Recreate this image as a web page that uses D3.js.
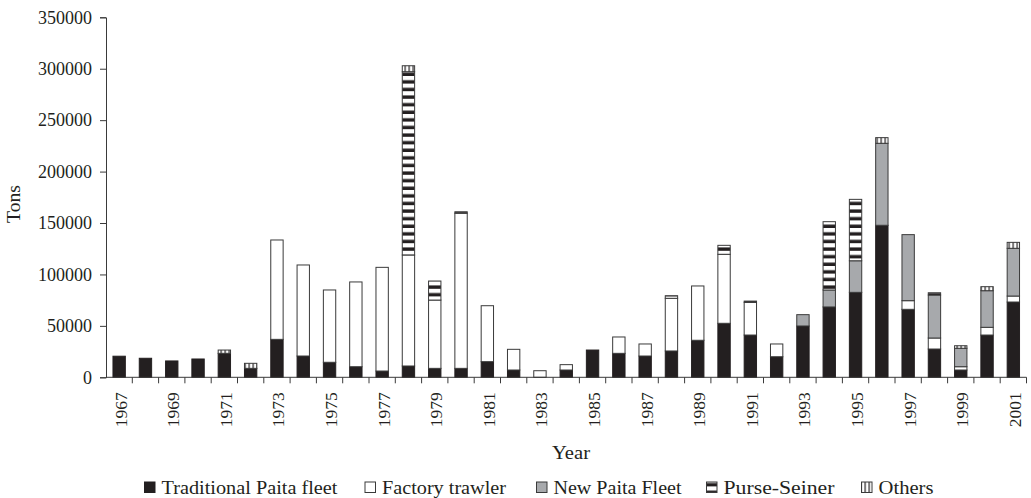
<!DOCTYPE html>
<html>
<head>
<meta charset="utf-8">
<script src="https://cdn.jsdelivr.net/npm/d3@7/dist/d3.min.js"></script>
<style>
  html, body { margin: 0; padding: 0; background: #fff; }
  svg { display: block; }
  text { font-family: "Liberation Serif", "DejaVu Serif", serif; fill: #231f20; }
</style>
</head>
<body>
<svg id="chart" width="1031" height="498"></svg>
<script>
// Annual catch by fleet, in tons
const years = d3.range(1967, 2002);
const traditional = [20500, 18500, 15900, 17800, 23300, 8700, 36900, 20700, 14600, 10300,
  6100, 11000, 8700, 8700, 15200, 7100, 0, 7100, 26500, 23300,
  20700, 25600, 36000, 52500, 41100, 20000, 49900, 68400, 82600, 147800,
  66100, 27500, 7100, 41100, 73200];
const factory = [0, 0, 0, 0, 0, 0, 96600, 88500, 70300, 82400,
  100800, 107900, 66400, 150700, 54400, 20100, 6400, 5200, 0, 15900,
  11700, 51200, 52800, 67100, 31800, 12400, 0, 0, 0, 0,
  8400, 10700, 3200, 7500, 5800];
const newPaita = [0, 0, 0, 0, 0, 0, 0, 0, 0, 0,
  0, 0, 0, 0, 0, 0, 0, 0, 0, 0,
  0, 0, 0, 0, 0, 0, 11000, 16500, 30700, 79700,
  64200, 41800, 17900, 35600, 46400];
const purseSeiner = [0, 0, 0, 0, 0, 0, 0, 0, 0, 0,
  0, 178200, 18500, 1500, 0, 0, 0, 0, 0, 0,
  0, 2500, 0, 8700, 1200, 0, 0, 66400, 59700, 0,
  0, 2200, 0, 0, 0];
const others = [0, 0, 0, 0, 3200, 4900, 0, 0, 0, 0,
  0, 5800, 0, 0, 0, 0, 0, 0, 0, 0,
  0, 0, 0, 0, 0, 0, 0, 0, 0, 5500,
  0, 0, 2500, 3900, 5800];

const seriesNames = ["Traditional Paita fleet", "Factory trawler", "New Paita Fleet", "Purse-Seiner", "Others"];
const seriesKeys = ["traditional", "factory", "newPaita", "purse", "others"];
const yTicks = [0, 50000, 100000, 150000, 200000, 250000, 300000, 350000];

const rows = years.map((yr, i) => ({
  year: yr,
  traditional: traditional[i],
  factory: factory[i],
  newPaita: newPaita[i],
  purse: purseSeiner[i],
  others: others[i]
}));

const svg = d3.select("#chart");
const ink = "#231f20";
const axisInk = "#3a3a3a";

// Fill patterns
const defs = svg.append("defs");
const ps = defs.append("pattern").attr("id", "purse")
  .attr("patternUnits", "userSpaceOnUse").attr("width", 8).attr("height", 7.6);
ps.append("rect").attr("width", 8).attr("height", 7.6).attr("fill", "#fff");
ps.append("rect").attr("y", 4.2).attr("width", 8).attr("height", 3.4).attr("fill", ink);

const ot = defs.append("pattern").attr("id", "others")
  .attr("patternUnits", "userSpaceOnUse").attr("width", 4).attr("height", 8).attr("x", 0.5);
ot.append("rect").attr("width", 4).attr("height", 8).attr("fill", "#fff");
ot.append("rect").attr("x", 0).attr("width", 1.2).attr("height", 8).attr("fill", ink);

const fills = {
  traditional: ink,
  factory: "#ffffff",
  newPaita: "#a7a9ac",
  purse: "url(#purse)",
  others: "url(#others)"
};

const plotLeft = 106, plotRight = 1026.5, plotTop = 17.3, plotBottom = 377.3;

const x = d3.scaleBand().domain(years).range([plotLeft, plotRight])
  .paddingInner(0.53).paddingOuter(0.265);
const y = d3.scaleLinear().domain([0, 350000]).range([plotBottom, plotTop]);

const layers = d3.stack().keys(seriesKeys)(rows);

const g = svg.append("g");
layers.forEach(layer => {
  const key = layer.key;
  g.append("g").selectAll("rect")
    .data(layer.filter(d => d[1] - d[0] > 0))
    .join("rect")
    .attr("x", d => x(d.data.year))
    .attr("width", x.bandwidth())
    .attr("y", d => y(d[1]))
    .attr("height", d => y(d[0]) - y(d[1]))
    .attr("fill", fills[key])
    .attr("stroke", key === "traditional" ? ink : axisInk)
    .attr("stroke-width", 1);
});

// Y axis
const yAxis = d3.axisLeft(y).tickValues(yTicks).tickSize(6).tickPadding(8)
  .tickFormat(d3.format("d"));
const yg = svg.append("g").attr("transform", `translate(${plotLeft},0)`).call(yAxis);
yg.select(".domain").attr("stroke", axisInk);
yg.selectAll(".tick line").attr("stroke", axisInk);
yg.selectAll("text").attr("font-size", 18).attr("font-family", "Liberation Serif").attr("fill", ink);

// X axis: baseline, boundary ticks, odd-year labels
const step = x.step();
const bounds = d3.range(years.length + 1).map(i => plotLeft + i * step);
svg.append("line").attr("x1", plotLeft).attr("x2", plotRight)
  .attr("y1", plotBottom).attr("y2", plotBottom).attr("stroke", axisInk);
svg.append("g").selectAll("line").data(bounds.slice(1)).join("line")
  .attr("x1", d => d).attr("x2", d => d).attr("y1", plotBottom).attr("y2", plotBottom + 6)
  .attr("stroke", axisInk);
svg.append("g").selectAll("text").data(years.filter(yr => yr % 2 === 1)).join("text")
  .attr("transform", d => `translate(${x(d) + x.bandwidth() / 2 + 1.5},${plotBottom + 15}) rotate(-90)`)
  .attr("text-anchor", "end")
  .attr("dominant-baseline", "central")
  .attr("font-size", 17.5)
  .text(d => d);

// Axis titles
svg.append("text").attr("x", 571).attr("y", 459).attr("text-anchor", "middle")
  .attr("font-size", 18).attr("textLength", 38).attr("lengthAdjust", "spacingAndGlyphs")
  .text("Year");
svg.append("text").attr("transform", "translate(20,204) rotate(-90)")
  .attr("text-anchor", "middle").attr("font-size", 18)
  .attr("textLength", 38).attr("lengthAdjust", "spacingAndGlyphs").text("Tons");

// Legend
const legendX = [144.5, 365, 536.5, 706.5, 861.5];
const legendTextWidth = [176, 124, 128, 111, 55];
const lg = svg.append("g");
seriesKeys.forEach((k, i) => {
  lg.append("rect").attr("x", legendX[i]).attr("y", 482).attr("width", 10.5).attr("height", 10.5)
    .attr("fill", fills[k]).attr("stroke", k === "traditional" ? ink : axisInk);
  lg.append("text").attr("x", legendX[i] + 17).attr("y", 493.5)
    .attr("font-size", 18)
    .attr("textLength", legendTextWidth[i]).attr("lengthAdjust", "spacingAndGlyphs")
    .text(seriesNames[i]);
});
</script>
</body>
</html>
